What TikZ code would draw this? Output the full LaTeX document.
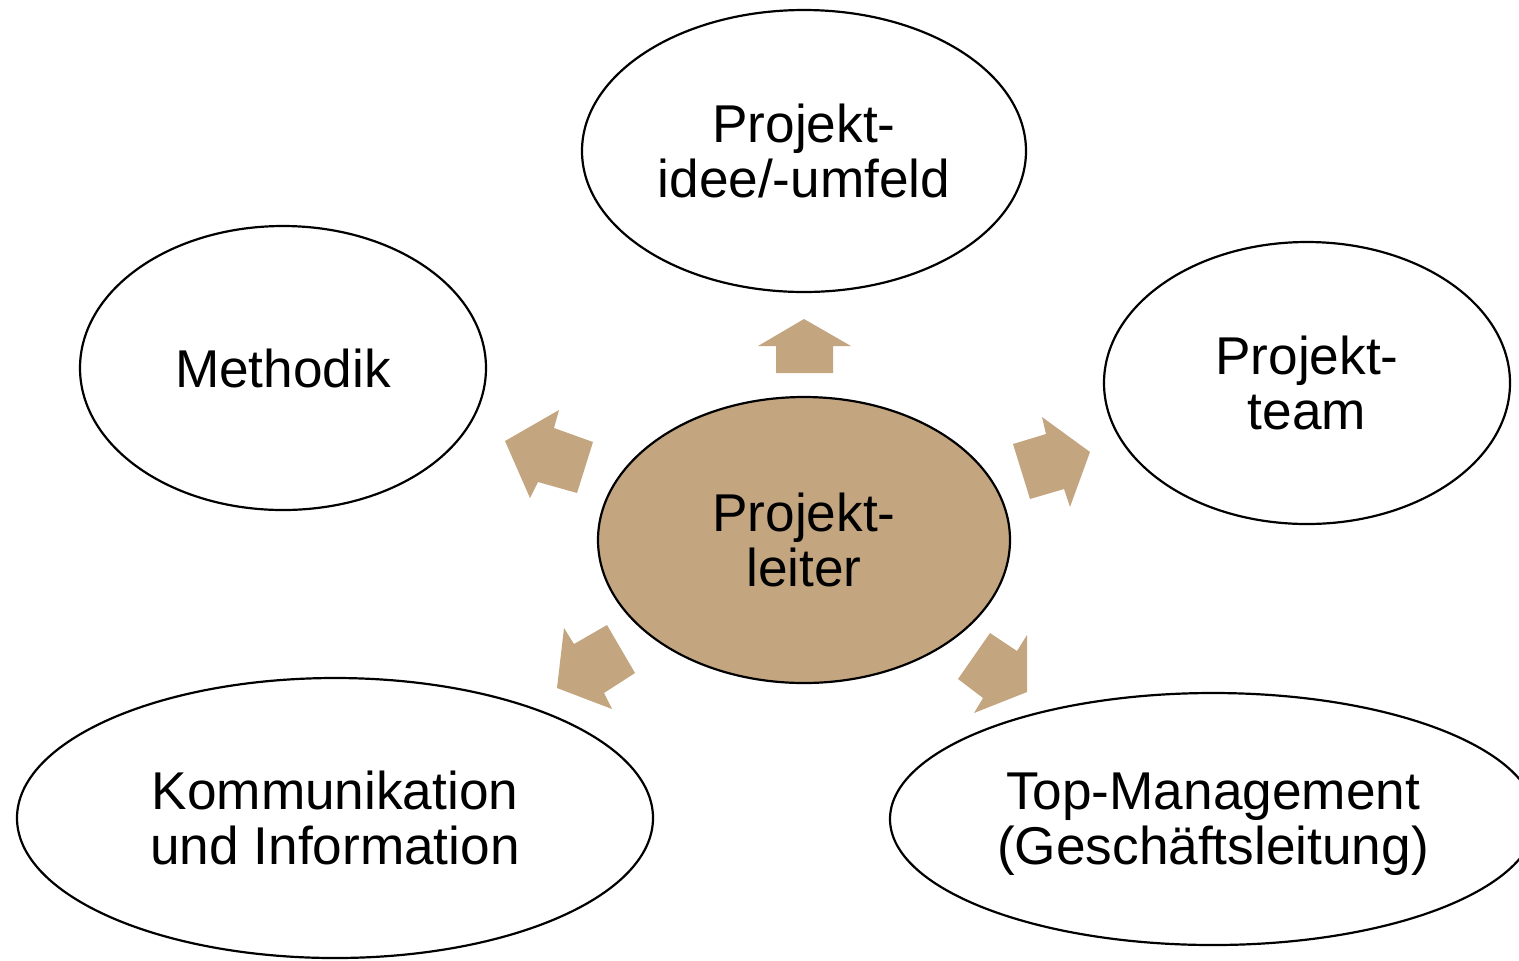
\documentclass[tikz,border=0pt]{standalone}
\usepackage{fontspec}
\setmainfont{Liberation Sans}
\usetikzlibrary{shapes.geometric}
\definecolor{tan}{RGB}{195,166,127}
\tikzset{
  bubble/.style={ellipse, draw=black, line width=1.1pt, inner sep=0pt, align=center,
    font=\fontsize{26.6}{27.4}\selectfont},
  caption/.style={inner sep=0pt, align=center, font=\fontsize{26.6}{27.4}\selectfont},
  blockarrow/.style={fill=tan, draw=none}
}
\begin{document}
\begin{tikzpicture}[x={(0.5pt,0)}, y={(0,-0.5pt)}]
\useasboundingbox (0,0) rectangle (1519,960);
\clip (0,0) rectangle (1519,960);

% surrounding topics
\node[bubble, fill=white, minimum width=222pt, minimum height=141pt] (idee) at (804,151) {Projekt-\\idee/-umfeld};
\node[bubble, fill=white, minimum width=203pt, minimum height=142pt] (meth) at (283,368) {Methodik};
\node[bubble, fill=white, minimum width=203pt, minimum height=141pt] (team) at (1307,383) {Projekt-\\team};
\node[bubble, fill=white, minimum width=318pt, minimum height=140pt] (komm) at (335,818) {Kommunikation\\und Information};
\node[bubble, fill=white, minimum width=323pt, minimum height=126pt] (top) at (1213,819) {};
\node[caption] (toptext) at ([yshift=-2.5pt]top.center) {Top-Management\\(Geschäftsleitung)};

% central role
\node[bubble, fill=tan, minimum width=206pt, minimum height=143pt] (pl) at (804,540) {Projekt-\\leiter};

% block arrows pointing outward
\fill[blockarrow] (776,373) -- (776,346) -- (758,346) -- (804,319) -- (851,346) -- (833,346) -- (833,373) -- cycle;
\fill[blockarrow] (593,442) -- (554,428) -- (559,410) -- (505,441) -- (530,498) -- (538,482) -- (577,493) -- cycle;
\fill[blockarrow] (1013,444) -- (1046,434) -- (1042,417) -- (1090,452) -- (1070,507) -- (1064,489) -- (1030,499) -- cycle;
\fill[blockarrow] (607,625) -- (574,644) -- (564,628) -- (557,688) -- (612,709) -- (604,693) -- (635,673) -- cycle;
\fill[blockarrow] (990,633) -- (1017,651) -- (1027,635) -- (1027,692) -- (974,713) -- (983,698) -- (958,679) -- cycle;
\end{tikzpicture}
\end{document}
